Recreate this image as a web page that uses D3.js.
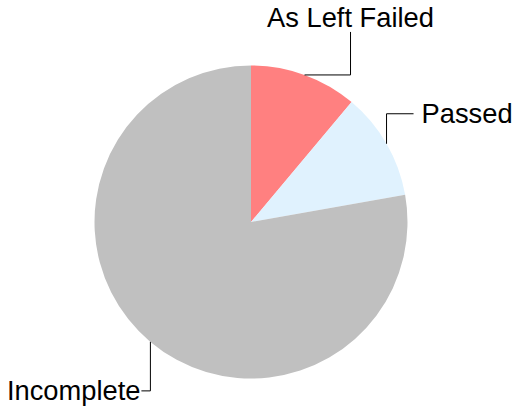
<!DOCTYPE html>
<html>
<head>
<meta charset="utf-8">
<script src="https://d3js.org/d3.v7.min.js"></script>
<style>
  body { margin: 0; background: #fff; }
  text { font-family: "Liberation Sans", Arial, sans-serif; font-size: 27.3px; fill: #000; }
</style>
</head>
<body>
<svg width="516" height="408"></svg>
<script>
var labels = ["As Left Failed", "Passed", "Incomplete"];
var values = [10, 10, 70];
var colors = ["#ff8080", "#e0f2fe", "#c0c0c0"];

var svg = d3.select("svg"),
    cx = 251, cy = 222, radius = 156.5;

var pie = d3.pie().sort(null).value(function(d) { return d; });
var arc = d3.arc().innerRadius(0).outerRadius(radius);

var arcs = pie(values);

var g = svg.append("g")
    .attr("transform", "translate(" + cx + "," + cy + ")");

g.selectAll("path.slice")
  .data(arcs)
  .enter().append("path")
    .attr("class", "slice")
    .attr("d", arc)
    .attr("fill", function(d, i) { return colors[i]; });

// leader layout: how each label leaves the edge
var leaders = [
  { first: "h", elbow: 46, len: -43, anchor: "middle" },
  { first: "v", elbow: -30, len: 27, anchor: "start" },
  { first: "v", elbow: 49, len: -9, anchor: "end" }
];

arcs.forEach(function(d, i) {
  var mid = (d.startAngle + d.endAngle) / 2,
      ex = Math.sin(mid) * radius,
      ey = -Math.cos(mid) * radius,
      L = leaders[i], pts, tx, ty;

  if (L.first == "h") {
    pts = [[ex, ey], [ex + L.elbow, ey], [ex + L.elbow, ey + L.len]];
    tx = ex + L.elbow; ty = ey + L.len - 5;
  } else {
    pts = [[ex, ey], [ex, ey + L.elbow], [ex + L.len, ey + L.elbow]];
    tx = ex + L.len + (L.len > 0 ? 8 : -1); ty = ey + L.elbow;
  }

  g.append("path")
    .attr("d", d3.line()(pts))
    .attr("fill", "none")
    .attr("stroke", "#000")
    .attr("stroke-width", 1);

  g.append("text")
    .attr("x", tx)
    .attr("y", ty)
    .attr("text-anchor", L.anchor)
    .attr("dy", L.first == "h" ? 0 : "0.35em")
    .text(labels[i]);
});
</script>
</body>
</html>
